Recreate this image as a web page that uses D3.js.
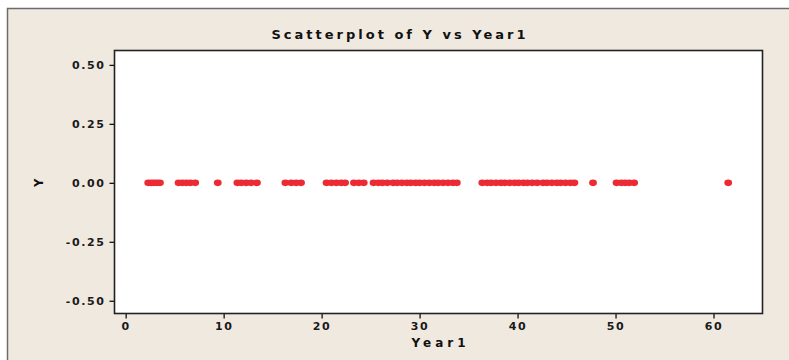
<!DOCTYPE html>
<html>
<head>
<meta charset="utf-8">
<script src="https://cdn.jsdelivr.net/npm/d3@7"></script>
<style>
  html, body { margin: 0; padding: 0; background: #ffffff; }
  svg { display: block; }
</style>
</head>
<body>
<svg id="chart" width="789" height="360"></svg>
<script>
// Year1 observations (all Y values are zero)
const year1 = [
  2.3, 2.6, 2.9, 3.2, 3.5,
  5.4, 5.8, 6.2, 6.6, 7.1,
  9.4,
  11.4, 11.8, 12.3, 12.8, 13.4,
  16.3, 16.9, 17.4, 17.9,
  20.5, 21.0, 21.5, 22.0, 22.4,
  23.3, 23.8, 24.3,
  25.3, 25.8, 26.2, 26.7, 27.3, 27.7, 28.2, 28.7, 29.1, 29.6, 30.0, 30.5,
  31.0, 31.5, 31.9, 32.4, 32.9, 33.4, 33.8,
  36.4, 36.9, 37.3, 37.8, 38.3, 38.7, 39.2, 39.7, 40.1, 40.6, 41.0, 41.5,
  42.0, 42.6, 43.0, 43.5, 44.0, 44.4, 44.9, 45.4, 45.8,
  47.7,
  50.1, 50.6, 51.0, 51.4, 51.9,
  61.5
];
const yValues = year1.map(() => 0);

const xTicks = [0, 10, 20, 30, 40, 50, 60];
const yTicks = [0.50, 0.25, 0.00, -0.25, -0.50];

const svg = d3.select("#chart");

// Graph window background
svg.append("rect")
  .attr("x", 7.5).attr("y", 8.5)
  .attr("width", 800).attr("height", 400)
  .attr("fill", "#efe9e0")
  .attr("stroke", "#6b6b6b")
  .attr("stroke-width", 1.5);

const plot = { left: 114.5, top: 50.5, right: 762.5, bottom: 313.5 };

const x = d3.scaleLinear().domain([-1.14, 65.0]).range([plot.left, plot.right]);
const y = d3.scaleLinear().domain([-0.554, 0.561]).range([plot.bottom, plot.top]);

// Data region
svg.append("rect")
  .attr("x", plot.left).attr("y", plot.top)
  .attr("width", plot.right - plot.left)
  .attr("height", plot.bottom - plot.top)
  .attr("fill", "#ffffff");

const tickFont = "'DejaVu Sans', Verdana, sans-serif";
const fmtY = d => d3.format(".2f")(d).replace("\u2212", "-");

// Axes
const xAxis = svg.append("g")
  .attr("transform", `translate(0,${plot.bottom})`)
  .call(d3.axisBottom(x).tickValues(xTicks).tickFormat(d3.format("d")).tickSize(5).tickSizeOuter(0));
const yAxis = svg.append("g")
  .attr("transform", `translate(${plot.left},0)`)
  .call(d3.axisLeft(y).tickValues(yTicks).tickFormat(fmtY).tickSize(5).tickSizeOuter(0));

[xAxis, yAxis].forEach(g => {
  g.select(".domain").remove();
  g.selectAll(".tick line").attr("stroke", "#111").attr("stroke-width", 1.3);
  g.selectAll(".tick text")
    .attr("fill", "#1a1a1a")
    .style("font-family", tickFont)
    .style("font-size", "11px")
    .style("font-weight", "600")
    .style("letter-spacing", "1.6px");
});
xAxis.selectAll(".tick text").attr("dy", "0.95em").attr("y", 6);
yAxis.selectAll(".tick text").attr("x", -9);

// Plot frame
svg.append("rect")
  .attr("x", plot.left).attr("y", plot.top)
  .attr("width", plot.right - plot.left)
  .attr("height", plot.bottom - plot.top)
  .attr("fill", "none")
  .attr("stroke", "#222")
  .attr("stroke-width", 1.6);

// Points
svg.append("g")
  .selectAll("ellipse")
  .data(year1)
  .join("ellipse")
  .attr("cx", d => x(d))
  .attr("cy", (d, i) => y(yValues[i]))
  .attr("rx", 3.9)
  .attr("ry", 3.3)
  .attr("fill", "#ec2a33");

// Title and axis labels
svg.append("text")
  .attr("x", 400).attr("y", 39)
  .attr("text-anchor", "middle")
  .style("font-family", tickFont)
  .style("font-size", "13px")
  .style("font-weight", "bold")
  .style("letter-spacing", "3px")
  .attr("fill", "#111")
  .text("Scatterplot of Y vs Year1");

svg.append("text")
  .attr("x", (plot.left + plot.right) / 2 + 2).attr("y", 347)
  .attr("text-anchor", "middle")
  .style("font-family", tickFont)
  .style("font-size", "12px")
  .style("font-weight", "bold")
  .style("letter-spacing", "4px")
  .attr("fill", "#111")
  .text("Year1");

svg.append("text")
  .attr("transform", `translate(43,${y(0)}) rotate(-90)`)
  .attr("text-anchor", "middle")
  .style("font-family", tickFont)
  .style("font-size", "11.5px")
  .style("font-weight", "bold")
  .attr("fill", "#111")
  .text("Y");
</script>
</body>
</html>
